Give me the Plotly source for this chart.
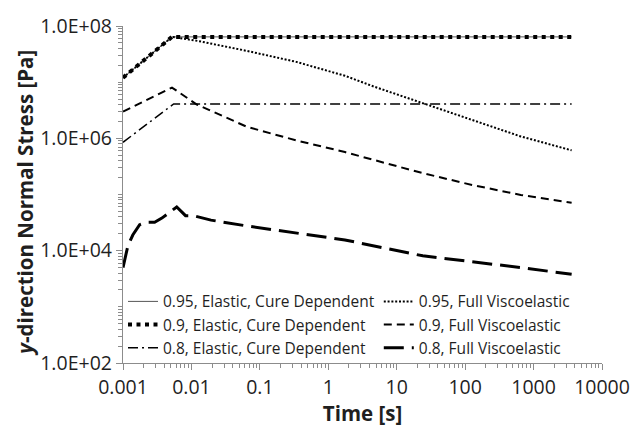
import plotly.graph_objects as go

# ---- data ----
t_elastic_095 = [0.001, 0.0052, 3600]
s_elastic_095 = [1.2e7, 6.4e7, 6.4e7]

t_elastic_09 = [0.001, 0.0052, 3600]
s_elastic_09 = [1.2e7, 6.4e7, 6.4e7]

t_elastic_08 = [0.001, 0.0055, 3600]
s_elastic_08 = [8.5e5, 4.1e6, 4.1e6]

t_visco_095 = [0.001, 0.0052, 0.0126, 0.065, 0.34, 1.75, 4.7, 24, 126, 650, 3600]
s_visco_095 = [1.2e7, 6.4e7, 5.4e7, 3.6e7, 2.3e7, 1.3e7, 8.3e6, 4.2e6, 2.1e6, 1.08e6, 6.1e5]

t_visco_09 = [0.001, 0.0052, 0.012, 0.065, 0.34, 1.75, 4.7, 24, 126, 650, 3600]
s_visco_09 = [3.0e6, 8.0e6, 4.0e6, 1.6e6, 9.2e5, 5.7e5, 4.1e5, 2.4e5, 1.48e5, 9.8e4, 7.1e4]

t_visco_08 = [0.001, 0.00118, 0.00139, 0.00175, 0.0022, 0.0029, 0.0037, 0.005, 0.0061,
              0.0082, 0.0107, 0.0193, 0.065, 1.75, 24, 650, 3600]
s_visco_08 = [5.0e3, 1.23e4, 1.9e4, 2.9e4, 3.2e4, 3.2e4, 3.8e4, 4.9e4, 6.0e4,
              4.2e4, 4.2e4, 3.5e4, 2.75e4, 1.55e4, 8.1e3, 5.0e3, 3.8e3]

x_tickvals = [0.001, 0.01, 0.1, 1, 10, 100, 1000, 10000]
x_ticktext = ["0.001", "0.01", "0.1", "1", "10", "100", "1000", "10000"]
y_tickvals = [1e2, 1e4, 1e6, 1e8]
y_ticktext = ["1.0E+02", "1.0E+04", "1.0E+06", "1.0E+08"]

FONT = "Open Sans"
TXT = "#1f1f1f"
AX = "#8c8c8c"

fig = go.Figure()

fig.add_trace(go.Scatter(x=t_elastic_095, y=s_elastic_095, mode="lines",
                         name="0.95, Elastic, Cure Dependent",
                         line=dict(color="#555555", width=1), legend="legend"))
fig.add_trace(go.Scatter(x=t_visco_095, y=s_visco_095, mode="lines",
                         name="0.95, Full Viscoelastic",
                         line=dict(color="black", width=2, dash="2px,1.8px"), legend="legend2"))
fig.add_trace(go.Scatter(x=t_elastic_09, y=s_elastic_09, mode="lines",
                         name="0.9, Elastic, Cure Dependent",
                         line=dict(color="black", width=4, dash="4px,4.5px"), legend="legend"))
fig.add_trace(go.Scatter(x=t_visco_09, y=s_visco_09, mode="lines",
                         name="0.9, Full Viscoelastic",
                         line=dict(color="black", width=2, dash="8px,5px"), legend="legend2"))
fig.add_trace(go.Scatter(x=t_elastic_08, y=s_elastic_08, mode="lines",
                         name="0.8, Elastic, Cure Dependent",
                         line=dict(color="black", width=1.5, dash="10px,4px,2px,4px"), legend="legend"))
fig.add_trace(go.Scatter(x=t_visco_08, y=s_visco_08, mode="lines",
                         name="0.8, Full Viscoelastic",
                         line=dict(color="black", width=3, dash="20px,8px"), legend="legend2"))

axis_common = dict(
    type="log", showgrid=False, zeroline=False,
    showline=True, linecolor=AX, linewidth=1.3,
    ticks="outside", ticklen=6, tickcolor=AX, tickwidth=1,
    tickfont=dict(family=FONT, size=19.5, color=TXT),
    minor=dict(ticks="outside", ticklen=4, tickcolor=AX, dtick="D1", showgrid=False),
)

fig.update_layout(
    width=642, height=427,
    margin=dict(l=123, r=29, t=22, b=64),
    paper_bgcolor="white", plot_bgcolor="white",
    font=dict(family=FONT, color=TXT),
    showlegend=True,
    xaxis=dict(axis_common, range=[-3, 4], tickvals=x_tickvals, ticktext=x_ticktext,
               title=dict(text="<b>Time [s]</b>", font=dict(family=FONT, size=20.5, color=TXT), standoff=1)),
    yaxis=dict(axis_common, range=[2, 8], tickvals=y_tickvals, ticktext=y_ticktext),
    legend=dict(x=0.0, y=0.232, xanchor="left", yanchor="top", bgcolor="rgba(0,0,0,0)",
                font=dict(family=FONT, size=15.5, color=TXT), itemwidth=30, tracegroupgap=0),
    legend2=dict(x=0.534, y=0.232, xanchor="left", yanchor="top", bgcolor="rgba(0,0,0,0)",
                 font=dict(family=FONT, size=15.5, color=TXT), itemwidth=30, tracegroupgap=0),
)

# y-axis title as rotated text, centred where the reference places it
fig.add_annotation(text="<b><i>y</i>-direction Normal Stress [Pa]</b>",
                   xref="paper", yref="paper", x=-0.205, y=0.475,
                   xanchor="center", yanchor="middle", textangle=-90, showarrow=False,
                   font=dict(family=FONT, size=20.5, color=TXT))

fig.write_html("out.html")
